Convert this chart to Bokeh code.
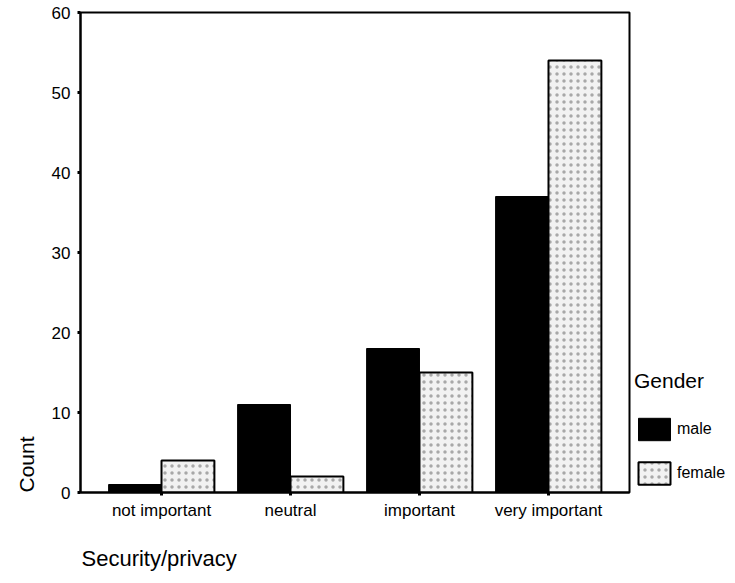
from bokeh.plotting import figure
from bokeh.models import FactorRange, Range1d, Legend, LegendItem, Title, FixedTicker
from bokeh.transform import dodge
from bokeh.embed import file_html
from bokeh.resources import INLINE

categories = ["not important", "neutral", "important", "very important"]
male = [1, 11, 18, 37]
female = [4, 2, 15, 54]
y_ticks = [0, 10, 20, 30, 40, 50, 60]

FONT = "Liberation Sans"

p = figure(x_range=FactorRange(factors=categories, range_padding=0.064),
           y_range=Range1d(0, 60),
           frame_width=549, frame_height=480, output_backend="svg", toolbar_location=None,
           min_border_left=80, min_border_right=106, min_border_top=12, min_border_bottom=91)

data = dict(cat=categories, male=male, female=female)
r_m = p.vbar(x=dodge("cat", -0.205, range=p.x_range), top="male", width=0.41, source=data,
             fill_color="black", line_color="black", line_width=1)
r_f = p.vbar(x=dodge("cat", 0.205, range=p.x_range), top="female", width=0.41, source=data,
             fill_color="#f2f2f2", line_color="black", line_width=2,
             hatch_pattern="dot", hatch_color="#a8a8a8", hatch_scale=7, hatch_weight=1)

p.grid.visible = False
p.background_fill_color = "white"
p.outline_line_color = "black"
p.outline_line_width = 2

p.yaxis.ticker = FixedTicker(ticks=y_ticks)
for ax in (p.xaxis, p.yaxis):
    ax.axis_line_width = 2
    ax.axis_line_color = "black"
    ax.major_tick_line_width = 3
    ax.major_tick_out = 3
    ax.major_tick_in = 0
    ax.minor_tick_line_color = None
    ax.major_label_text_font = FONT
    ax.major_label_text_font_size = "17px"
    ax.major_label_text_color = "black"
p.yaxis.major_label_standoff = 7
p.xaxis.major_label_standoff = 5

p.add_layout(Title(text="Security/privacy", align="left", offset=1, standoff=42,
                   text_font=FONT, text_font_size="22px", text_font_style="normal",
                   text_color="black"), "below")
p.add_layout(Title(text="Count", align="left", offset=0, standoff=22,
                   text_font=FONT, text_font_size="21px", text_font_style="normal",
                   text_color="black"), "left")

legend = Legend(items=[LegendItem(label="male", renderers=[r_m]),
                       LegendItem(label="female", renderers=[r_f])],
                title="Gender", location="bottom_left")
legend.title_text_font = FONT
legend.title_text_font_size = "21px"
legend.title_text_font_style = "normal"
legend.title_text_color = "black"
legend.title_standoff = 22
legend.label_text_font = FONT
legend.label_text_font_size = "16px"
legend.label_text_color = "black"
legend.glyph_width = 40
legend.glyph_height = 28
legend.label_height = 28
legend.spacing = 16
legend.padding = 0
legend.margin = 5
legend.label_standoff = 3
legend.border_line_color = None
legend.background_fill_alpha = 0
p.add_layout(legend, "right")

open("out.html", "w").write(file_html(p, INLINE))
